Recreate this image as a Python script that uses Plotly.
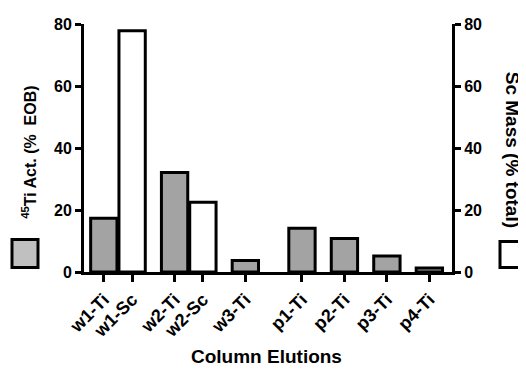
import plotly.graph_objects as go

# ---- data ----
ti_labels = ["w1-Ti", "w2-Ti", "w3-Ti", "p1-Ti", "p2-Ti", "p3-Ti", "p4-Ti"]
ti_values = [17.3, 32.1, 3.7, 14.1, 10.8, 5.2, 1.3]
sc_labels = ["w1-Sc", "w2-Sc"]
sc_values = [77.8, 22.5]
tick_order = ["w1-Ti", "w1-Sc", "w2-Ti", "w2-Sc", "w3-Ti", "p1-Ti", "p2-Ti", "p3-Ti", "p4-Ti"]
y_ticks = [0, 20, 40, 60, 80]

# ---- layout (slot positions on the category axis) ----
slot_pos = {"w1-Ti": 1, "w1-Sc": 2, "w2-Ti": 3.5, "w2-Sc": 4.5, "w3-Ti": 6,
            "p1-Ti": 8, "p2-Ti": 9.5, "p3-Ti": 11, "p4-Ti": 12.5}

FONT = "Liberation Sans, Arial, sans-serif"

# plot area in screen pixels (page has 8px body margin)
PX_L, PX_W, PX_B, PX_H = 84, 368, 272.5, 248.5
def px(x):
    return (x - PX_L) / PX_W
def py(y):
    return (PX_B - y) / PX_H

fig = go.Figure()
fig.add_trace(go.Bar(
    x=[slot_pos[c] for c in ti_labels], y=ti_values, width=0.93,
    marker=dict(color="#a3a3a3", line=dict(color="black", width=3)),
    yaxis="y", showlegend=False))
fig.add_trace(go.Bar(
    x=[slot_pos[c] for c in sc_labels], y=sc_values, width=0.93,
    marker=dict(color="white", line=dict(color="black", width=3)),
    yaxis="y2", showlegend=False))

tick_font = dict(family=FONT, size=16, color="black", weight="bold")

fig.update_layout(
    width=518, height=361,
    margin=dict(l=76, r=74, t=16, b=96.5, autoexpand=False),
    paper_bgcolor="white", plot_bgcolor="white",
    barmode="overlay",
    xaxis=dict(range=[0.3, 13.3], tickvals=[slot_pos[c] for c in tick_order],
               ticktext=tick_order, tickangle=-45, ticks="outside", ticklen=7,
               tickwidth=3, tickcolor="black", showline=True, linewidth=3,
               linecolor="black", showgrid=False, zeroline=False,
               tickfont=dict(family=FONT, size=18, color="black", weight="bold")),
    yaxis=dict(range=[0, 80], tickvals=y_ticks, ticks="outside", ticklen=6,
               tickwidth=3, tickcolor="black", showline=True, linewidth=3,
               linecolor="black", showgrid=False, zeroline=False,
               tickfont=tick_font, ticklabelstandoff=0),
    yaxis2=dict(range=[0, 80], tickvals=y_ticks, ticks="outside", ticklen=6,
                tickwidth=3, tickcolor="black", showline=True, linewidth=3,
                linecolor="black", showgrid=False, zeroline=False,
                overlaying="y", side="right", tickfont=tick_font,
                ticklabelstandoff=0),
)

fig.add_annotation(text="Column Elutions", xref="paper", yref="paper",
                   x=px(266), y=py(357), showarrow=False,
                   font=dict(family=FONT, size=19, color="black", weight="bold"),
                   xanchor="center", yanchor="middle")
fig.add_annotation(text="<sup>45</sup>Ti Act. (%  EOB)", xref="paper", yref="paper",
                   x=px(29), y=py(153), showarrow=False, textangle=-90,
                   font=dict(family=FONT, size=16, color="black", weight="bold"),
                   xanchor="center", yanchor="middle")
fig.add_annotation(text="Sc Mass (% total)", xref="paper", yref="paper",
                   x=px(512), y=py(150), showarrow=False, textangle=90,
                   font=dict(family=FONT, size=19, color="black", weight="bold"),
                   xanchor="center", yanchor="middle")

# legend squares
fig.add_shape(type="rect", xref="paper", yref="paper",
              x0=px(12), x1=px(38), y0=py(268), y1=py(240),
              fillcolor="#c0c0c0", line=dict(color="black", width=3))
fig.add_shape(type="rect", xref="paper", yref="paper",
              x0=px(500), x1=px(524), y0=py(268), y1=py(242),
              fillcolor="white", line=dict(color="black", width=3))

fig.write_html("out.html")
